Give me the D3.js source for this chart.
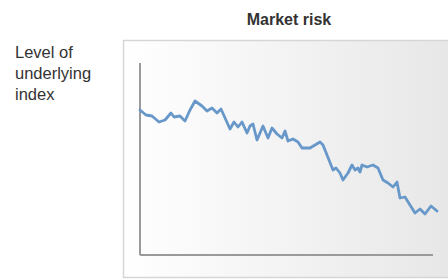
<!DOCTYPE html>
<html>
<head>
<meta charset="utf-8">
<script src="https://cdn.jsdelivr.net/npm/d3@7"></script>
<style>
  body { margin: 0; background: #fff; }
  svg { display: block; font-family: "Liberation Sans", Arial, sans-serif; }
</style>
</head>
<body>
<div id="chart"></div>
<script>
// days since start, and level of the underlying index on that day
const days = [0, 6, 12, 19, 25, 31, 34, 40, 45, 50, 55, 62, 67, 72, 77, 81,
    90, 94, 98, 102, 107, 110, 113, 117, 123, 128, 132, 137, 142, 145, 148, 153,
    158, 162, 170, 180, 183, 193, 196, 200, 203, 208, 212, 215, 218, 220, 222, 227,
    233, 238, 243, 248, 253, 257, 260, 265, 270, 275, 280, 285, 291, 297];
const levels = [145, 140, 139, 133, 135, 142, 138, 139, 134, 145, 154, 149, 144, 147, 142, 146,
    126, 133, 128, 133, 122, 129, 131, 115, 129, 117, 127, 121, 117, 124, 114, 116,
    113, 107, 107, 113, 110, 85, 87, 82, 75, 82, 90, 85, 87, 83, 90, 88,
    90, 87, 75, 72, 68, 73, 57, 58, 50, 42, 46, 41, 49, 44];
const title = "Market risk";
const yLabel = ["Level of", "underlying", "index"];

const width = 448, height = 280;

const svg = d3.select("#chart").append("svg")
    .attr("width", width)
    .attr("height", height);

// panel background with a soft left-to-right gradient
const grad = svg.append("defs").append("linearGradient")
    .attr("id", "panelGrad")
    .attr("x1", "0%").attr("x2", "100%")
    .attr("y1", "0%").attr("y2", "0%");
grad.append("stop").attr("offset", "0%").attr("stop-color", "#ffffff");
grad.append("stop").attr("offset", "100%").attr("stop-color", "#e6e6e6");

svg.append("rect")
    .attr("x", 123.5)
    .attr("y", 40.5)
    .attr("width", 340)
    .attr("height", 237)
    .attr("fill", "url(#panelGrad)")
    .attr("stroke", "#d6d6d6")
    .attr("stroke-width", 1.5);

const x = d3.scaleLinear().domain([0, 293]).range([140, 433]);
const y = d3.scaleLinear().domain([0, 192]).range([255, 63]);

// bare axes, no ticks
const axisColor = "#9a9a9a";
svg.append("line")
    .attr("x1", x(0)).attr("x2", x(0))
    .attr("y1", y(192)).attr("y2", y(0))
    .attr("stroke", axisColor)
    .attr("stroke-width", 2);
svg.append("line")
    .attr("x1", x(0)).attr("x2", x(293))
    .attr("y1", y(0)).attr("y2", y(0))
    .attr("stroke", axisColor)
    .attr("stroke-width", 2);

const line = d3.line()
    .x((d, i) => x(days[i]))
    .y(d => y(d));

svg.append("path")
    .datum(levels)
    .attr("d", line)
    .attr("fill", "none")
    .attr("stroke", "#6898c9")
    .attr("stroke-width", 2.8)
    .attr("stroke-linejoin", "round")
    .attr("stroke-linecap", "round");

svg.append("text")
    .attr("x", 289)
    .attr("y", 25)
    .attr("text-anchor", "middle")
    .attr("font-size", 16)
    .attr("font-weight", "bold")
    .attr("fill", "#333")
    .text(title);

svg.append("text")
    .attr("x", 15)
    .attr("y", 58)
    .attr("font-size", 16.5)
    .attr("fill", "#333")
    .selectAll("tspan")
    .data(yLabel)
    .enter().append("tspan")
    .attr("x", 15)
    .attr("dy", (d, i) => i === 0 ? 0 : 21)
    .text(d => d);
</script>
</body>
</html>
